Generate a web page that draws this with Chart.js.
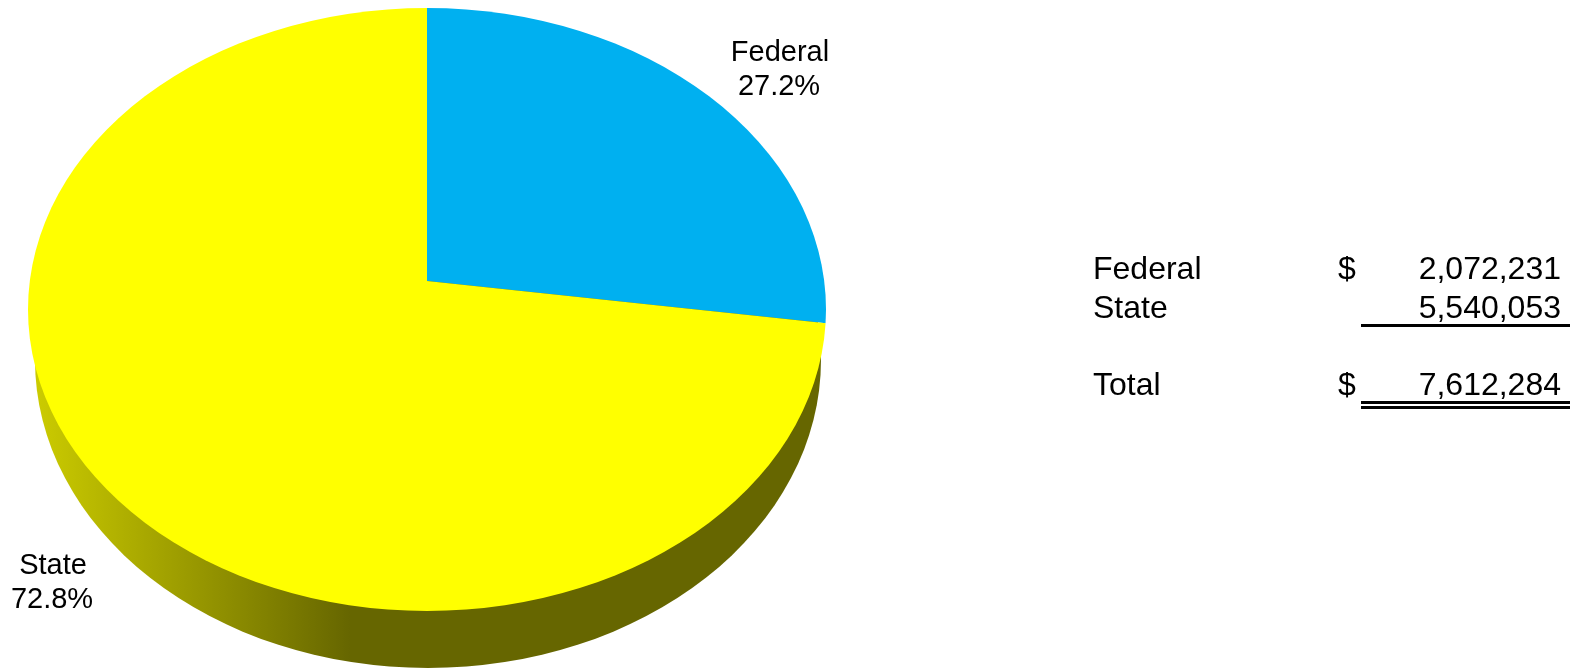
<!DOCTYPE html>
<html>
<head>
<meta charset="utf-8">
<title>Federal and State funding</title>
<script src="https://cdn.jsdelivr.net/npm/chart.js@4"></script>
<style>
  html, body { margin: 0; padding: 0; background: #fff; overflow: hidden; }
  #stage { position: relative; width: 1583px; height: 668px; font-family: "Liberation Sans", Arial, sans-serif; color: #000; }
  canvas { position: absolute; left: 0; top: 0; }
  .txt { position: absolute; white-space: nowrap; }
  .rule { position: absolute; background: #000; left: 1361px; width: 209px; height: 3px; }
</style>
</head>
<body>
<div id="stage"><canvas id="pie" width="1583" height="668"></canvas></div>
<script>
const categories = ["Federal", "State"];
const amounts = [2072231, 5540053];
const amountLabels = ["2,072,231", "5,540,053"];
const totalName = "Total";
const totalLabel = "7,612,284";
const sliceColors = ["#00B0F0", "#FFFF00"];

// Tilted disc: top face outline, lower rim outline, and shading of the rim.
const face = { cx: 427, cy: 309.5, rx: 399, ry: 301.5 };
const rim = { cx: 428, cy: 360, rx: 393, ry: 308 };
const tilt = face.ry / face.rx;
const spread = 1.7;

const discPlugin = {
  id: "tiltedDisc",
  beforeDatasetsDraw(chart) {
    const { ctx } = chart;
    const arc = chart.getDatasetMeta(0).data[0];

    const shade = ctx.createLinearGradient(34, 0, 350, 0);
    shade.addColorStop(0, "#CCCC00");
    shade.addColorStop(1, "#666600");
    ctx.save();
    ctx.fillStyle = shade;
    ctx.beginPath();
    ctx.ellipse(rim.cx, rim.cy, rim.rx, rim.ry, 0, 0, Math.PI * 2);
    ctx.fill();
    ctx.restore();

    // Slices fan out from the off-centre apex and are trimmed by the face outline.
    ctx.save();
    ctx.beginPath();
    ctx.ellipse(face.cx, face.cy, face.rx, face.ry, 0, 0, Math.PI * 2);
    ctx.clip();
    ctx.translate(arc.x, arc.y);
    ctx.scale(spread, spread * tilt);
    ctx.translate(-arc.x, -arc.y);
  },
  afterDatasetsDraw(chart) {
    chart.ctx.restore();
  }
};

new Chart(document.getElementById("pie"), {
  type: "pie",
  data: {
    labels: categories,
    datasets: [{ data: amounts, backgroundColor: sliceColors, borderWidth: 0, clip: false }]
  },
  options: {
    responsive: false,
    animation: false,
    rotation: 0,
    events: [],
    layout: { padding: { left: 0, top: 0, right: 729, bottom: 106 } },
    plugins: { legend: { display: false }, tooltip: { enabled: false } }
  },
  plugins: [discPlugin]
});

const stage = document.getElementById("stage");

function putText(text, x, baseline, size, align) {
  const el = document.createElement("div");
  el.className = "txt";
  el.textContent = text;
  el.style.fontSize = size + "px";
  el.style.lineHeight = size + "px";
  el.style.top = Math.round(baseline - size * 0.8465) + "px";
  if (align === "center") { el.style.left = x + "px"; el.style.transform = "translateX(-50%)"; }
  else if (align === "right") { el.style.right = (1583 - x) + "px"; }
  else { el.style.left = x + "px"; }
  stage.appendChild(el);
}

function putRule(top) {
  const el = document.createElement("div");
  el.className = "rule";
  el.style.top = top + "px";
  stage.appendChild(el);
}

const grandTotal = amounts.reduce((a, b) => a + b, 0);
const share = v => (v / grandTotal * 100).toFixed(1) + "%";

// Slice captions
putText(categories[0], 780, 62, 29, "center");
putText(share(amounts[0]), 779, 96, 29, "center");
putText(categories[1], 53, 575, 29, "center");
putText(share(amounts[1]), 52, 609, 29, "center");

// Summary table
putText(categories[0], 1093, 279, 32);
putText("$", 1338, 279, 32);
putText(amountLabels[0], 1561, 279, 32, "right");
putText(categories[1], 1093, 318, 32);
putText(amountLabels[1], 1561, 318, 32, "right");
putRule(324);
putText(totalName, 1093, 395, 32);
putText("$", 1338, 395, 32);
putText(totalLabel, 1561, 395, 32, "right");
putRule(401);
putRule(406);
</script>
</body>
</html>
